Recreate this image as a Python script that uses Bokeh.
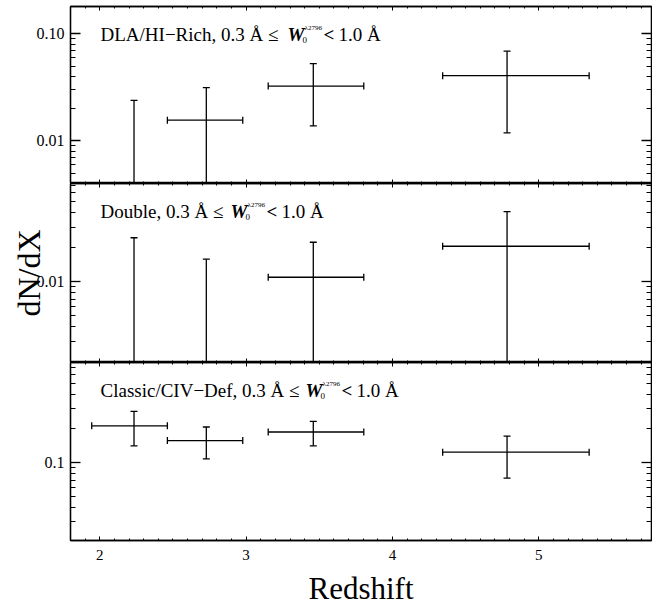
import math
from bokeh.plotting import figure
from bokeh.models import (Range1d, LogAxis, LinearAxis, FixedTicker, Whisker,
                          ColumnDataSource, Label, TeeHead)
from bokeh.layouts import column
from bokeh.embed import file_html
from bokeh.resources import INLINE

# ---------------- data ----------------
z = [2.234, 2.728, 3.459, 4.783]          # redshift of each bin
z_lo = [1.945, 2.462, 3.151, 4.343]       # bin lower edge
z_hi = [2.462, 2.977, 3.804, 5.344]       # bin upper edge

dla_val = [0.0, 0.0156, 0.0325, 0.0407]
dla_lo = [0.0, 0.0, 0.0138, 0.0119]
dla_hi = [0.0239, 0.0314, 0.0526, 0.0688]

double_val = [0.0, 0.0, 0.0109, 0.0204]
double_lo = [0.0, 0.0, 0.0, 0.0]
double_hi = [0.0242, 0.0157, 0.0221, 0.0411]

classic_val = [0.212, 0.157, 0.187, 0.124]
classic_lo = [0.141, 0.108, 0.141, 0.0731]
classic_hi = [0.284, 0.207, 0.232, 0.172]

panel_names = ["DLA/HI\u2212Rich", "Double", "Classic/CIV\u2212Def"]
cut_text = ", 0.3 \u00c5 \u2264 "
w_text = "W"
w_sup = "\u03bb2796"
w_sub = "0"
lt_text = "<"
cut_end = "1.0 \u00c5"

x_ticks = [2, 3, 4, 5]
x_label = "Redshift"
y_label = "dN/dX"

FONT = "Liberation Serif"
LW = 1.3

x_minor = [round(1.8 + 0.1 * i, 2) for i in range(40)
           if abs((1.8 + 0.1 * i) - round(1.8 + 0.1 * i)) > 1e-6]
y_minor = [m * 10.0 ** e for e in (-3, -2, -1) for m in range(2, 10)]


def hide_labels(ax):
    ax.major_label_text_font_size = "1px"
    ax.major_label_text_color = None
    ax.major_label_standoff = 0


def make_panel(val, lo, hi, yrange, yticks, ylabels, frame_h, top, bottom, name,
               wx, with_xlabels, with_ylabel):
    p = figure(width=652, height=frame_h + top + bottom,
               x_range=Range1d(1.80, 5.77), y_range=Range1d(*yrange),
               y_axis_type="log",
               x_axis_location=None, y_axis_location=None,
               output_backend="svg", toolbar_location=None,
               min_border_left=70, min_border_right=1,
               min_border_top=top, min_border_bottom=bottom)
    p.outline_line_color = "black"
    p.outline_line_width = LW
    p.background_fill_color = "white"
    p.border_fill_color = "white"
    for g in p.grid:
        g.visible = False

    def yaxis(labels):
        ax = LogAxis(ticker=FixedTicker(ticks=yticks, minor_ticks=y_minor),
                     major_tick_in=10, major_tick_out=0,
                     minor_tick_in=5, minor_tick_out=0,
                     axis_line_color="black", axis_line_width=LW,
                     major_tick_line_color="black", minor_tick_line_color="black",
                     major_tick_line_width=LW, minor_tick_line_width=1)
        if labels:
            ax.major_label_overrides = dict(zip(yticks, ylabels))
            ax.major_label_text_font = FONT
            ax.major_label_text_font_size = "16px"
            ax.major_label_text_color = "black"
            ax.major_label_standoff = 6
            if with_ylabel:
                ax.axis_label = y_label
                ax.axis_label_text_font = FONT
                ax.axis_label_text_font_size = "32px"
                ax.axis_label_text_font_style = "normal"
                ax.axis_label_text_color = "black"
                ax.axis_label_standoff = -13
        else:
            hide_labels(ax)
        return ax

    def xaxis(labels):
        ax = LinearAxis(ticker=FixedTicker(ticks=x_ticks, minor_ticks=x_minor),
                        major_tick_in=4, major_tick_out=0,
                        minor_tick_in=2, minor_tick_out=0,
                        axis_line_color="black", axis_line_width=LW,
                        major_tick_line_color="black", minor_tick_line_color="black",
                        major_tick_line_width=1, minor_tick_line_width=1)
        if labels:
            ax.major_label_text_font = FONT
            ax.major_label_text_font_size = "15px"
            ax.major_label_text_color = "black"
            ax.major_label_standoff = 9
            ax.axis_label = x_label
            ax.axis_label_text_font = FONT
            ax.axis_label_text_font_size = "31px"
            ax.axis_label_text_font_style = "normal"
            ax.axis_label_text_color = "black"
            ax.axis_label_standoff = 8
        else:
            hide_labels(ax)
        return ax

    p.add_layout(yaxis(True), "left")
    p.add_layout(yaxis(False), "right")
    p.add_layout(xaxis(with_xlabels), "below")
    p.add_layout(xaxis(False), "above")

    ymin = yrange[0]
    head = lambda: TeeHead(size=7, line_width=LW, line_color="black")
    full = [i for i in range(len(z)) if lo[i] > 0]
    lim = [i for i in range(len(z)) if lo[i] <= 0]
    if full:
        s = ColumnDataSource(dict(x=[z[i] for i in full], lower=[lo[i] for i in full],
                                  upper=[hi[i] for i in full]))
        p.add_layout(Whisker(source=s, base="x", lower="lower", upper="upper",
                             dimension="height", line_color="black", line_width=LW,
                             upper_head=head(), lower_head=head()))
    if lim:
        s = ColumnDataSource(dict(x=[z[i] for i in lim], lower=[ymin for i in lim],
                                  upper=[hi[i] for i in lim]))
        p.add_layout(Whisker(source=s, base="x", lower="lower", upper="upper",
                             dimension="height", line_color="black", line_width=LW,
                             upper_head=head(), lower_head=None))
    det = [i for i in range(len(z)) if val[i] > 0]
    if det:
        s = ColumnDataSource(dict(y=[val[i] for i in det], lower=[z_lo[i] for i in det],
                                  upper=[z_hi[i] for i in det]))
        p.add_layout(Whisker(source=s, base="y", lower="lower", upper="upper",
                             dimension="width", line_color="black", line_width=LW,
                             upper_head=head(), lower_head=head()))

    yb = frame_h - 28

    def lab(x, y, text, size, style="normal"):
        p.add_layout(Label(x=x, y=y, x_units="screen", y_units="screen",
                           text=text, text_font=FONT, text_font_size=size,
                           text_font_style=style,
                           text_baseline="alphabetic", text_color="black"))
    lab(30, yb, name + cut_text, "19px")
    lab(wx, yb, w_text, "19px", "bold italic")
    lab(wx + 17, yb + 7, w_sup, "7px")
    lab(wx + 15, yb - 5, w_sub, "9px")
    lab(wx + 36, yb, lt_text, "19px", "bold")
    lab(wx + 51, yb, cut_end, "19px")
    return p


p1 = make_panel(dla_val, dla_lo, dla_hi, (0.0040, 0.18), [0.01, 0.1], ["0.01", "0.10"],
                177, 6, 0, panel_names[0], 217, False, False)
p2 = make_panel(double_val, double_lo, double_hi, (0.00195, 0.0724), [0.01], ["0.01"],
                179, 0, 0, panel_names[1], 160, False, True)
p3 = make_panel(classic_val, classic_lo, classic_hi, (0.0205, 0.77), [0.1], ["0.1"],
                178, 0, 68, panel_names[2], 235, True, False)

layout = column(p1, p2, p3, spacing=0)
open("out.html", "w").write(file_html(layout, INLINE))
